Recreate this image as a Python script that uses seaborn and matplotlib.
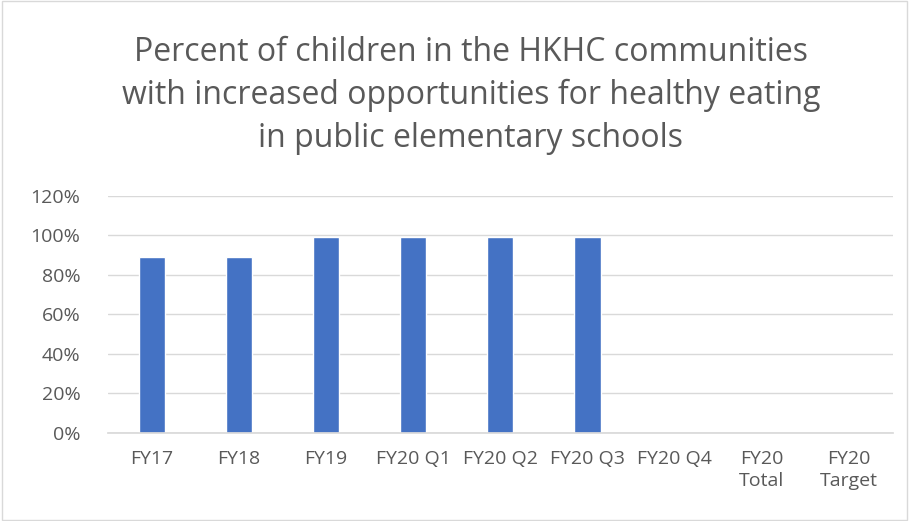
import matplotlib
matplotlib.use("Agg")
import matplotlib.pyplot as plt
import seaborn as sns
import pandas as pd
import numpy as np
from matplotlib.ticker import FuncFormatter

categories = ["FY17", "FY18", "FY19", "FY20 Q1", "FY20 Q2", "FY20 Q3", "FY20 Q4", "FY20\nTotal", "FY20\nTarget"]
values = [0.89, 0.89, 0.99, 0.99, 0.99, 0.99, np.nan, np.nan, np.nan]
yticks = [0, 0.2, 0.4, 0.6, 0.8, 1.0, 1.2]
title = "Percent of children in the HKHC communities\nwith increased opportunities for healthy eating\nin public elementary schools"

sns.set_theme(style="white")
plt.rcParams['font.family'] = ['Open Sans', 'DejaVu Sans']

df = pd.DataFrame({"cat": categories, "val": values})

fig = plt.figure(figsize=(9.09, 5.21), dpi=100)
ax = fig.add_axes([0.119, 0.169, 0.863, 0.455])
sns.barplot(data=df, x="cat", y="val", order=categories, color="#4472C4",
            width=0.3, saturation=1, ax=ax, errorbar=None)
ax.set_ylim(0, 1.2)
ax.set_yticks(yticks)
ax.yaxis.set_major_formatter(FuncFormatter(lambda v, p: f"{v*100:.0f}%"))
ax.grid(axis="y", color="#D9D9D9", linewidth=1)
ax.set_axisbelow(True)
for s in ["left", "right", "top"]:
    ax.spines[s].set_visible(False)
ax.spines["bottom"].set_color("#D9D9D9")
ax.set_xlabel("")
ax.set_ylabel("")
ax.tick_params(axis="both", length=0, labelsize=14, colors="#595959")
ax.tick_params(axis="y", pad=20)
ax.tick_params(axis="x", pad=12)
for lbl in ax.get_xticklabels():
    lbl.set_verticalalignment("top")
    lbl.set_linespacing(1.3)

fig.text(0.518, 0.93, title, ha="center", va="top", fontsize=23, color="#595959", linespacing=1.38)

border = plt.Rectangle((0.002, 0.002), 0.996, 0.996, transform=fig.transFigure,
                       fill=False, edgecolor="#D9D9D9", linewidth=1)
fig.patches.append(border)

fig.savefig("out.png", dpi=100)
